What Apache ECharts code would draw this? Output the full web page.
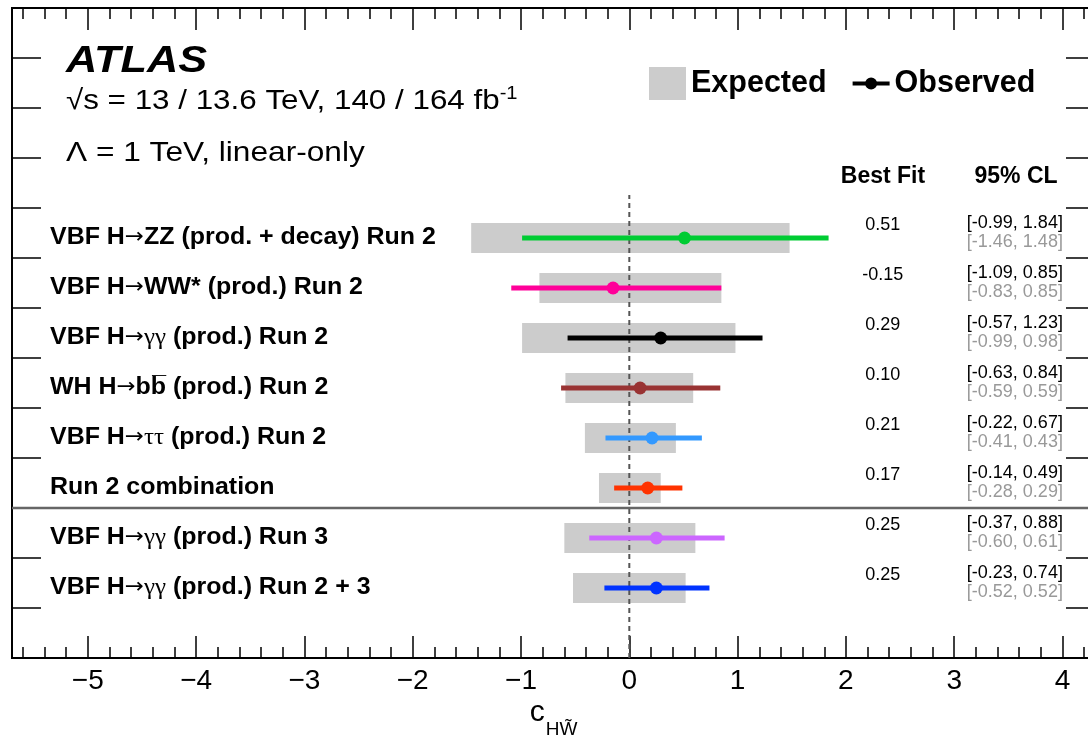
<!DOCTYPE html>
<html>
<head>
<meta charset="utf-8">
<script src="https://cdn.jsdelivr.net/npm/echarts@6/dist/echarts.min.js"></script>
<style>
  html, body { margin: 0; padding: 0; background: #fff; }
  #chart { width: 1088px; height: 738px; }
</style>
</head>
<body>
<div id="chart"></div>
<script>
// Measurements of c_HW~ per channel, listed top to bottom.
// Channel names use rich-text markup so the arrow and Greek letters are set in a lighter face.
const channels = [
  '{b|VBF H}{s|→}{b|ZZ (prod. + decay) Run 2}',
  '{b|VBF H}{s|→}{b|WW* (prod.) Run 2}',
  '{b|VBF H}{s|→}{g|γγ}{b| (prod.) Run 2}',
  '{b|WH H}{s|→}{b|bb\u0305 (prod.) Run 2}',
  '{b|VBF H}{s|→}{g|ττ}{b| (prod.) Run 2}',
  '{b|Run 2 combination}',
  '{b|VBF H}{s|→}{g|γγ}{b| (prod.) Run 3}',
  '{b|VBF H}{s|→}{g|γγ}{b| (prod.) Run 2 + 3}'
];
const bestFit = [0.51, -0.15, 0.29, 0.10, 0.21, 0.17, 0.25, 0.25];
const obsLow  = [-0.99, -1.09, -0.57, -0.63, -0.22, -0.14, -0.37, -0.23];
const obsHigh = [1.84, 0.85, 1.23, 0.84, 0.67, 0.49, 0.88, 0.74];
const expLow  = [-1.46, -0.83, -0.99, -0.59, -0.41, -0.28, -0.60, -0.52];
const expHigh = [1.48, 0.85, 0.98, 0.59, 0.43, 0.29, 0.61, 0.52];
const colors  = ['#00cc33', '#ff0099', '#000000', '#993333', '#3399ff', '#ff3300', '#cc66ff', '#0033ff'];
const xTickLabels = [-5, -4, -3, -2, -1, 0, 1, 2, 3, 4];

// Layout constants (axis units)
const X_MIN = -5.7, X_MAX = 4.3;
const Y_MIN = 0, Y_MAX = 13;
const ROW_TOP = 8.4;          // y of the first channel, one unit per row
const SEPARATOR_Y = 3;        // line between Run 2 and Run 3 results
const REF_LINE_TOP = 9.26;    // top of the dashed SM line
const BF_X = 2.34;            // centre of the "Best Fit" column
const CL_X = 3.56;            // centre of the "95% CL" column
const rowY = i => ROW_TOP - i;

const FONT = "'Liberation Sans', Arial, Helvetica, sans-serif";

// minor ticks every 0.2
const minorTicks = [];
for (let k = -28; k <= 21; k++) {
  const v = Math.round(k * 2) / 10;
  if (Math.abs(v - Math.round(v)) > 1e-9) minorTicks.push(v);
}

const fmt = v => v.toFixed(2);

const labelRich = {
  b: { fontFamily: FONT, fontWeight: 'bold', fontSize: 23, fill: '#000' },
  s: { fontFamily: "'DejaVu Sans', sans-serif", fontWeight: 'normal', fontSize: 21, fill: '#000' },
  g: { fontFamily: "'Liberation Serif', 'DejaVu Serif', serif", fontWeight: 'normal', fontSize: 23, fill: '#000' }
};

const tickStyle = { color: '#000', width: 1.5 };
function xAxisDef(position, ticks, len, labels) {
  return {
    type: 'value', min: X_MIN, max: X_MAX, position: position,
    axisLine: { show: false, onZero: false },
    splitLine: { show: false },
    axisTick: { show: true, inside: true, length: len, customValues: ticks, lineStyle: tickStyle },
    axisLabel: labels ? {
      show: true, customValues: xTickLabels, fontSize: 28, fontFamily: FONT, color: '#000', margin: 9,
      formatter: v => (v < 0 ? '\u2212' + Math.abs(v) : String(v))
    } : { show: false }
  };
}

const mainX = xAxisDef('bottom', xTickLabels, 22, true);
mainX.name = '{c|c}{s|HW\u0303}';
mainX.nameLocation = 'middle';
mainX.nameGap = 37;
mainX.nameMoveOverlap = false;
mainX.nameTextStyle = {
  rich: {
    c: { fontSize: 30, fontFamily: FONT, color: '#000', lineHeight: 30, padding: [3, 0, 0, 0], verticalAlign: 'top' },
    s: { fontSize: 19, fontFamily: FONT, color: '#000', lineHeight: 19, padding: [25, 0, 0, 1], verticalAlign: 'top' }
  }
};

function yAxisDef(position) {
  return {
    type: 'value', min: Y_MIN, max: Y_MAX, interval: 1, position: position,
    axisLine: { show: false, onZero: false },
    splitLine: { show: false },
    axisTick: { show: true, inside: true, length: 29, lineStyle: tickStyle },
    axisLabel: { show: false }
  };
}

const OBS_ICON = 'path://M0,0L0,0M37,33L37,33M0,14.5L37,14.5L37,18.5L0,18.5ZM12.5,16.5A6,6,0,1,1,24.5,16.5A6,6,0,1,1,12.5,16.5Z';

const chart = echarts.init(document.getElementById('chart'), null, { renderer: 'canvas' });

chart.setOption({
  animation: false,
  backgroundColor: '#fff',
  grid: {
    left: 12, top: 8, width: 1083, height: 650, outerBoundsMode: 'none', containLabel: false,
    show: true, borderColor: '#000', borderWidth: 2, backgroundColor: 'transparent'
  },
  xAxis: [
    mainX,
    xAxisDef('bottom', minorTicks, 11, false),
    xAxisDef('top', xTickLabels, 22, false),
    xAxisDef('top', minorTicks, 11, false)
  ],
  yAxis: [yAxisDef('left'), yAxisDef('right')],
  legend: {
    left: 649, top: 67, padding: 0, itemWidth: 37, itemHeight: 33, itemGap: 26, selectedMode: false,
    textStyle: { fontSize: 30.5, fontWeight: 'bold', fontFamily: FONT, color: '#000' },
    data: [
      { name: 'Expected', icon: 'rect', itemStyle: { color: '#cccccc' } },
      { name: 'Observed', icon: OBS_ICON, itemStyle: { color: '#000' } }
    ]
  },
  graphic: [
    { type: 'text', x: 66, y: 62, scaleX: 1.17, style: { text: 'ATLAS', font: "italic bold 37px " + FONT, fill: '#000', verticalAlign: 'middle' } },
    { type: 'text', x: 66, y: 100, scaleX: 1.12, style: {
        text: '{n|\u221As = 13 / 13.6 TeV, 140 / 164 fb}{sup|-1}', verticalAlign: 'middle',
        rich: {
          n: { fontSize: 28, fontFamily: FONT, fill: '#000', lineHeight: 30, padding: [10, 0, 0, 0], verticalAlign: 'bottom' },
          sup: { fontSize: 18, fontFamily: FONT, fill: '#000', lineHeight: 20, verticalAlign: 'top' }
        } } },
    { type: 'text', x: 66, y: 153, scaleX: 1.13, style: { text: '\u039B = 1 TeV, linear-only', font: '28px ' + FONT, fill: '#000', verticalAlign: 'middle' } },
    { type: 'text', x: 883, y: 177, style: { text: 'Best Fit', font: 'bold 23px ' + FONT, fill: '#000', align: 'center', verticalAlign: 'middle' } },
    { type: 'text', x: 1016, y: 177, style: { text: '95% CL', font: 'bold 23px ' + FONT, fill: '#000', align: 'center', verticalAlign: 'middle' } }
  ],
  series: [
    {
      name: 'Expected', type: 'custom', z: 1,
      itemStyle: { color: '#cccccc' },
      data: expLow.map((lo, i) => [lo, expHigh[i], rowY(i)]),
      encode: { x: [0, 1], y: 2 },
      renderItem: (params, api) => {
        const y = api.value(2);
        const p0 = api.coord([api.value(0), y]);
        const p1 = api.coord([api.value(1), y]);
        const h = api.size([0, 0.6])[1];
        return { type: 'rect', shape: { x: p0[0], y: p0[1] - h / 2, width: p1[0] - p0[0], height: h }, style: { fill: '#cccccc' } };
      }
    },
    {
      name: 'SM', type: 'line', z: 3, silent: true, symbol: 'none',
      data: [[0, Y_MIN], [0, REF_LINE_TOP]],
      lineStyle: { color: '#555', width: 2, type: [5, 4] }
    },
    {
      name: 'Separator', type: 'line', z: 3, silent: true, symbol: 'none',
      data: [[X_MIN, SEPARATOR_Y], [X_MAX, SEPARATOR_Y]],
      lineStyle: { color: '#666', width: 2.5 }
    },
    {
      name: 'Observed', type: 'custom', z: 4,
      itemStyle: { color: '#000' },
      data: obsLow.map((lo, i) => [lo, obsHigh[i], bestFit[i], rowY(i)]),
      encode: { x: [0, 1, 2], y: 3 },
      renderItem: (params, api) => {
        const i = params.dataIndex;
        const y = api.value(3);
        const a = api.coord([api.value(0), y]);
        const b = api.coord([api.value(1), y]);
        const c = api.coord([api.value(2), y]);
        return {
          type: 'group', children: [
            { type: 'line', shape: { x1: a[0], y1: a[1], x2: b[0], y2: b[1] }, style: { stroke: colors[i], lineWidth: 5 } },
            { type: 'circle', shape: { cx: c[0], cy: c[1], r: 6.5 }, style: { fill: colors[i] } }
          ]
        };
      }
    },
    {
      name: 'Labels', type: 'custom', z: 5, silent: true,
      data: channels.map((_, i) => [X_MIN, rowY(i)]),
      encode: { x: 0, y: 1 },
      renderItem: (params, api) => {
        const i = params.dataIndex;
        const y = api.value(1);
        const left = api.coord([X_MIN, y]);
        const bf = api.coord([BF_X, y]);
        const cl = api.coord([CL_X, y]);
        const num = { fontSize: 18, fontFamily: FONT, align: 'center', verticalAlign: 'middle' };
        return {
          type: 'group', children: [
            { type: 'text', x: left[0] + 38, y: left[1], scaleX: 1.085,
              style: { text: channels[i], x: 0, y: 0, align: 'left', verticalAlign: 'middle', rich: labelRich } },
            { type: 'text', style: Object.assign({ text: fmt(bestFit[i]), x: bf[0], y: bf[1] - 13, fill: '#000' }, num) },
            { type: 'text', style: Object.assign({ text: '[' + fmt(obsLow[i]) + ', ' + fmt(obsHigh[i]) + ']', x: cl[0], y: cl[1] - 15, fill: '#000' }, num) },
            { type: 'text', style: Object.assign({ text: '[' + fmt(expLow[i]) + ', ' + fmt(expHigh[i]) + ']', x: cl[0], y: cl[1] + 4, fill: '#999' }, num) }
          ]
        };
      }
    }
  ]
});
</script>
</body>
</html>
